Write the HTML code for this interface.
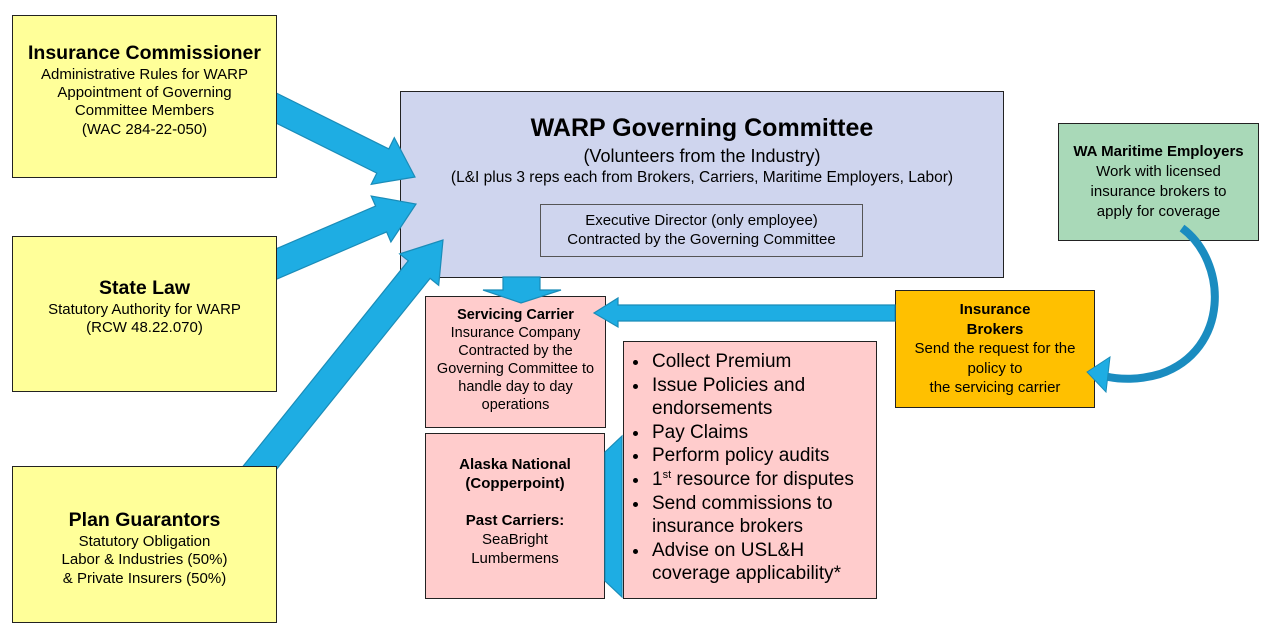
<!DOCTYPE html>
<html><head><meta charset="utf-8">
<style>
html,body{margin:0;padding:0;background:#fff;}
body{width:1269px;height:637px;position:relative;overflow:hidden;font-family:"Liberation Sans",Arial,sans-serif;color:#000;}
.b{position:absolute;box-sizing:border-box;border:1.3px solid #222;display:flex;flex-direction:column;justify-content:center;align-items:center;text-align:center;line-height:1.22;}
.y{background:#FFFF99;z-index:3;}
.t{font-weight:bold;font-size:19.5px;}
.s{font-size:15px;}
svg{position:absolute;left:0;top:0;z-index:2;}
ul{margin:0;padding:0 0 0 26px;font-size:19px;line-height:23.6px;}
li{padding-left:2px;}
sup{font-size:11px;line-height:0;vertical-align:7px;}
</style></head><body>

<div class="b y" style="left:12px;top:15px;width:265px;height:163px;padding-bottom:12px;">
<div class="t">Insurance Commissioner</div>
<div class="s">Administrative Rules for WARP<br>Appointment of Governing<br>Committee Members<br>(WAC 284-22-050)</div></div>

<div class="b y" style="left:12px;top:236px;width:265px;height:156px;padding-bottom:14px;">
<div class="t">State Law</div>
<div class="s">Statutory Authority for WARP<br>(RCW 48.22.070)</div></div>

<div class="b y" style="left:12px;top:466px;width:265px;height:157px;padding-top:8px;">
<div class="t">Plan Guarantors</div>
<div class="s">Statutory Obligation<br>Labor &amp; Industries (50%)<br>&amp; Private Insurers (50%)</div></div>

<div class="b" style="left:400px;top:91px;width:604px;height:187px;background:#CFD5EE;justify-content:flex-start;padding-top:21px;">
<div style="font-weight:bold;font-size:25px;">WARP Governing Committee</div>
<div style="font-size:18px;margin-top:2px;">(Volunteers from the Industry)</div>
<div style="font-size:15.5px;margin-top:2px;">(L&amp;I plus 3 reps each from Brokers, Carriers, Maritime Employers, Labor)</div>
</div>
<div class="b" style="left:540px;top:204px;width:323px;height:53px;background:#CFD5EE;font-size:15px;border-color:#555;">Executive Director (only employee)<br>Contracted by the Governing Committee</div>

<div class="b" style="left:425px;top:296px;width:181px;height:132px;background:#FFCCCC;font-size:14.5px;line-height:1.25;padding-bottom:4px;">
<div style="font-weight:bold;">Servicing Carrier</div>
Insurance Company<br>Contracted by the<br>Governing Committee to<br>handle day to day<br>operations</div>

<div class="b" style="left:425px;top:433px;width:180px;height:166px;background:#FFCCCC;font-size:15px;line-height:1.25;padding-bottom:8px;">
<div style="font-weight:bold;">Alaska National<br>(Copperpoint)</div><br>
<div style="font-weight:bold;">Past Carriers:</div>
SeaBright<br>Lumbermens</div>

<div class="b" style="left:623px;top:341px;width:254px;height:258px;background:#FFCCCC;align-items:flex-start;text-align:left;justify-content:flex-start;padding-top:8px;">
<ul>
<li>Collect Premium</li>
<li>Issue Policies and endorsements</li>
<li>Pay Claims</li>
<li>Perform policy audits</li>
<li>1<sup>st</sup> resource for disputes</li>
<li>Send commissions to insurance brokers</li>
<li>Advise on USL&amp;H coverage applicability*</li>
</ul></div>

<div class="b" style="left:895px;top:290px;width:200px;height:118px;background:#FFC000;font-size:15px;line-height:1.3;">
<div style="font-weight:bold;">Insurance<br>Brokers</div>
Send the request for the<br>policy to<br>the servicing carrier</div>

<div class="b" style="left:1058px;top:123px;width:201px;height:118px;background:#A9D9B8;font-size:15px;line-height:1.32;">
<div style="font-weight:bold;">WA Maritime Employers</div>
Work with licensed<br>insurance brokers to<br>apply for coverage</div>

<svg width="1269" height="637" id="sv">
<g fill="#1EADE3" stroke="#1A8CB8" stroke-width="1.2">
<polygon id="a1"/><polygon id="a2"/><polygon id="a3"/>
<polygon points="503,277 540,277 540,290 561,290 521,303 483,290 503,290"/>
<polygon points="895,305 618,305 618,298 594,313 618,327 618,321 895,321"/>
<polygon points="605,452 622,436 622,597 605,581"/>
</g>
<path d="M1182,228 C1228,262 1230,350 1160,374 C1140,380 1120,380 1104,376" fill="none" stroke="#1A8CC0" stroke-width="8"/>
<polygon points="1087,372 1110,357 1106,392" fill="#1EADE3" stroke="#1A8CB8" stroke-width="1"/>
</svg>
<script>
function arr(id,sx,sy,ex,ey,w,hw,hl){
var dx=ex-sx,dy=ey-sy,L=Math.hypot(dx,dy),ux=dx/L,uy=dy/L,px=-uy,py=ux;
var bx=ex-ux*hl,by=ey-uy*hl;
var p=[[sx+px*w/2,sy+py*w/2],[bx+px*w/2,by+py*w/2],[bx+px*hw/2,by+py*hw/2],[ex,ey],[bx-px*hw/2,by-py*hw/2],[bx-px*w/2,by-py*w/2],[sx-px*w/2,sy-py*w/2]];
document.getElementById(id).setAttribute('points',p.map(function(q){return q[0].toFixed(1)+','+q[1].toFixed(1)}).join(' '));
}
arr('a1',260,100,415,177,27,52,36);
arr('a2',260,271,416,204,28,50,38);
arr('a3',250,480,443,240,28,50,38);
</script>
</body></html>
